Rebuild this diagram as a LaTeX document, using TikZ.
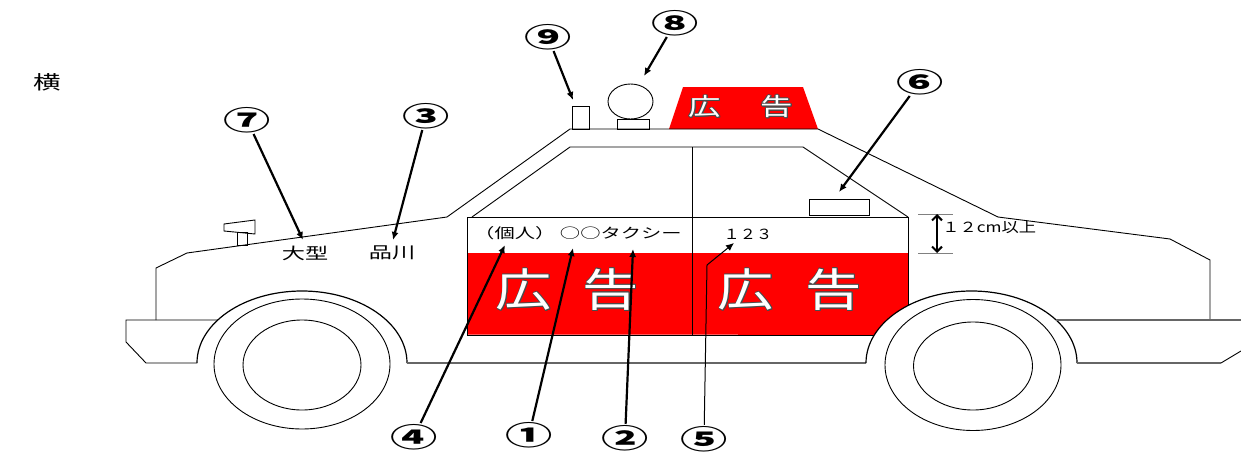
\documentclass[tikz,border=0pt]{standalone}
\usepackage{fontspec}
\setmainfont{Noto Sans CJK JP}
\usepackage{contour}
\contourlength{0.7pt}
\usetikzlibrary{arrows.meta}
\definecolor{adred}{RGB}{255,0,0}
\tikzset{
	body/.style={draw,line width=0.9pt},
	sill/.style={draw=black!60,line width=1.2pt},
	lead/.style={line width=2.2pt,-{Latex[length=8pt,width=7pt]}},
	num/.style={font=\bfseries\fontsize{27}{27}\selectfont,xscale=1.75,inner sep=1pt},
	txt/.style={font=\fontsize{14}{14}\selectfont,xscale=1.45,inner sep=0pt},
	adbig/.style={font=\fontsize{45}{45}\selectfont,xscale=1.25,text=white,inner sep=0pt},
	adtop/.style={font=\fontsize{24}{24}\selectfont,xscale=1.35,text=white,inner sep=0pt},
	gauge/.style={draw=black!50,line width=1pt}
}

\begin{document}
\begin{tikzpicture}[x=1pt,y=-1pt]
	\useasboundingbox (0,0) rectangle (1241,452);
	% red panels
	\fill[adred] (468,253) -- (908,253) -- (908,305.5)
		arc[start angle=127,end angle=157,x radius=105.5pt,y radius=72pt]
		-- (468,334.5) -- cycle;
	\fill[adred] (669,129) -- (683,87) -- (803,87) -- (818,129) -- cycle;
	% body
	\draw[body] (156,320) -- (156,268) -- (187,253) -- (447,217) -- (570,129)
		-- (818,129) -- (998,217) -- (1170,239) -- (1210,260) -- (1210,320);
	\draw[body] (218,320) -- (126,320) -- (126,342) -- (146,363) -- (197,363);
	\draw[body,line width=1.2pt] (197,363) arc[start angle=180,end angle=0,x radius=105pt,y radius=72pt];
	\draw[sill] (407,363) -- (866,363);
	\draw[body,line width=1.2pt] (866,363) arc[start angle=180,end angle=0,x radius=105.5pt,y radius=72pt];
	\draw[sill] (1077,363) -- (1221,363);
	\draw[body] (1221,363) -- (1241,351);
	\draw[sill] (1056,320) -- (1241,320);
	% windows and door
	\draw[body] (472,217) -- (570,147) -- (803,147) -- (908,217);
	\draw[body] (692,147) -- (692,335);
	\draw[body] (874,335) -- (467,335) -- (467,217) -- (908,217) -- (908,305.5);
	\draw[body] (809,199) rectangle (869,215);
	% wheels
	\draw[body] (302,364) ellipse[x radius=88pt,y radius=65pt];
	\draw[body] (302,365) ellipse[x radius=59pt,y radius=45pt];
	\draw[body] (973,365) ellipse[x radius=88pt,y radius=65.5pt];
	\draw[body] (973,366) ellipse[x radius=59.5pt,y radius=44pt];
	% mirror
	\draw[body] (224,224) -- (255,220) -- (255,234) -- (224,231) -- cycle;
	\draw[body] (237,232) rectangle (247,245.5);
	% roof
	\draw[body] (572,106) rectangle (589,129);
	\draw[body] (617,119) rectangle (649,129);
	\draw[body] (630.5,101.5) ellipse[x radius=22.5pt,y radius=17.5pt];

	\node[adtop] (topa) at (705,107) {\contour{black!70}{広}};
	\node[adtop] (topb) at (777,107) {\contour{black!70}{告}};
	\node[adbig] (ad1a) at (524,290) {\contour{black!70}{広}};
	\node[adbig] (ad1b) at (611,290) {\contour{black!70}{告}};
	\node[adbig] (ad2a) at (746,290) {\contour{black!70}{広}};
	\node[adbig] (ad2b) at (834,290) {\contour{black!70}{告}};

	\node[txt,font=\fontsize{19}{19}\selectfont] (yoko) at (47,82) {横};
	\node[txt,font=\fontsize{16}{16}\selectfont] (size) at (305,253) {大型};
	\node[txt,font=\fontsize{16}{16}\selectfont] (area) at (392,253) {品川};
	\node[txt] (owner) at (578,233) {（個人） ○○タクシー};
	\node[txt,xscale=0.8] (plate) at (748,234) {１２３};
	\node[txt,xscale=0.85,anchor=west] (height) at (942,227) {１２cm以上};

	% 12cm gauge
	\coordinate (g1) at (918,214);
	\coordinate (g2) at (953,214);
	\coordinate (g3) at (918,253);
	\coordinate (g4) at (953,253);
	\coordinate (ga) at (937,214);
	\coordinate (gb) at (937,253);
	\draw[gauge] (g1) -- (g2);
	\draw[gauge] (g3) -- (g4);
	\draw[line width=2pt,{Straight Barb[length=5pt,width=10pt]}-{Straight Barb[length=5pt,width=10pt]}] (ga) -- (gb);

	% numbers and leaders
	\node[num] (n1) at (529,435) {①};
	\node[num] (n2) at (625,438) {②};
	\node[num] (n3) at (426,116) {③};
	\node[num] (n4) at (414,437) {④};
	\node[num] (n5) at (704,439) {⑤};
	\node[num] (n6) at (920,82) {⑥};
	\node[num] (n7) at (247,120) {⑦};
	\node[num] (n8) at (675,23) {⑧};
	\node[num] (n9) at (548,37) {⑨};
	\coordinate (t1) at (573,248);
	\coordinate (t2) at (633,249);
	\coordinate (t3) at (393,240);
	\coordinate (t4) at (505,245);
	\coordinate (b5) at (707,265);
	\coordinate (t5) at (734,243);
	\coordinate (t6) at (839,192);
	\coordinate (t7) at (303,240);
	\coordinate (t8) at (644,76);
	\coordinate (t9) at (573,100);
	\draw[lead] (n1) -- (t1);
	\draw[lead] (n2) -- (t2);
	\draw[lead] (n3) -- (t3);
	\draw[lead] (n4) -- (t4);
	\draw[lead,line width=1pt] (n5) -- (b5) -- (t5);
	\draw[lead] (n6) -- (t6);
	\draw[lead] (n7) -- (t7);
	\draw[lead] (n8) -- (t8);
	\draw[lead] (n9) -- (t9);
\end{tikzpicture}
\end{document}
